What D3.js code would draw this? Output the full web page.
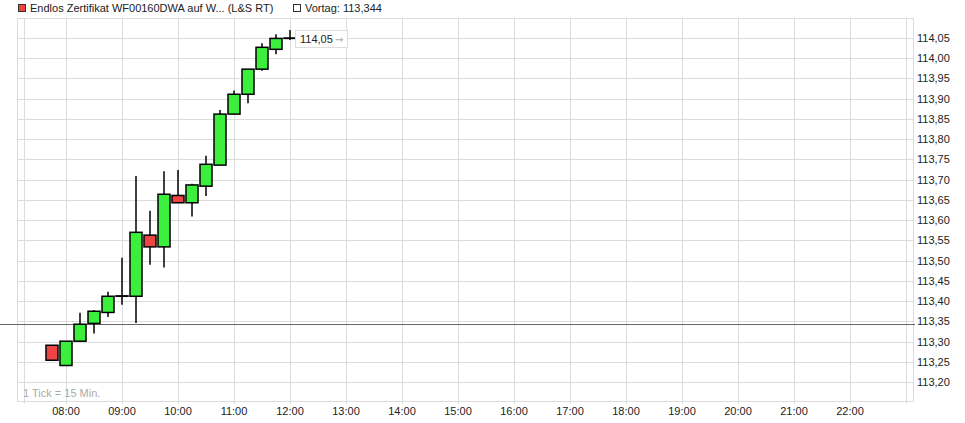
<!DOCTYPE html>
<html>
<head>
<meta charset="utf-8">
<script src="https://cdn.jsdelivr.net/npm/d3@7"></script>
<style>
  body { margin: 0; background: #fff; }
  svg { display: block; font-family: "Liberation Sans", Arial, sans-serif; }
</style>
</head>
<body>
<svg id="chart" width="965" height="423"></svg>
<script>
// 15-Minuten-Kerzen
const times  = ['07:45','08:00','08:15','08:30','08:45','09:00','09:15','09:30','09:45',
                '10:00','10:15','10:30','10:45','11:00','11:15','11:30','11:45','12:00'];
const opens  = [113.291,113.241,113.301,113.345,113.372,113.412,113.412,113.563,113.534,
                113.661,113.643,113.684,113.736,113.862,113.911,113.973,114.022,114.049];
const highs  = [113.291,113.301,113.371,113.378,113.423,113.507,113.709,113.623,113.721,
                113.724,113.690,113.759,113.872,113.920,113.973,114.037,114.059,114.070];
const lows   = [113.254,113.241,113.301,113.320,113.361,113.391,113.346,113.490,113.483,
                113.643,113.609,113.660,113.736,113.862,113.889,113.969,114.010,114.045];
const closes = [113.254,113.301,113.343,113.375,113.412,113.413,113.570,113.534,113.664,
                113.643,113.687,113.738,113.862,113.911,113.973,114.027,114.049,114.050];

const vortag = 113.344;
const lastPrice = 114.05;
const seriesName = 'Endlos Zertifikat WF00160DWA auf W... (L&S RT)';

const xTicks = ['08:00','09:00','10:00','11:00','12:00','13:00','14:00','15:00',
                '16:00','17:00','18:00','19:00','20:00','21:00','22:00'];
const yTicks = [113.20,113.25,113.30,113.35,113.40,113.45,113.50,113.55,113.60,
                113.65,113.70,113.75,113.80,113.85,113.90,113.95,114.00,114.05];

const de = d3.formatLocale({ decimal: ',', thousands: '.', grouping: [3], currency: ['', ' €'] });
const fmt2 = de.format('.2f');
const fmt3 = de.format('.3f');

const parse = d3.timeParse('%H:%M:%S');
const t = s => parse(s.length === 5 ? s + ':00' : s);

const plot = { left: 17, right: 913, top: 18, bottom: 401 };
const colors = { up: '#3def3d', down: '#ee4444', grid: '#dcdcdc', text: '#222' };

const svg = d3.select('#chart');

const x = d3.scaleTime()
  .domain([t('07:07:30'), t('23:07:30')])
  .range([plot.left, plot.right]);

const y = d3.scaleLinear()
  .domain([113.1533, 114.0994])
  .range([plot.bottom, plot.top]);

// Gitter
const grid = svg.append('g').attr('shape-rendering', 'crispEdges');

grid.selectAll('.hg').data(yTicks).enter().append('line')
  .attr('x1', plot.left).attr('x2', plot.right)
  .attr('y1', d => Math.round(y(d)) + 0.5).attr('y2', d => Math.round(y(d)) + 0.5)
  .attr('stroke', colors.grid);

grid.selectAll('.vg').data(xTicks).enter().append('line')
  .attr('x1', d => Math.round(x(t(d))) + 0.5).attr('x2', d => Math.round(x(t(d))) + 0.5)
  .attr('y1', plot.top).attr('y2', plot.bottom + 3)
  .attr('stroke', colors.grid);

// innere Rahmenlinien links / rechts
[plot.left + 7, plot.right - 7].forEach(px => {
  grid.append('line')
    .attr('x1', px + 0.5).attr('x2', px + 0.5)
    .attr('y1', plot.top).attr('y2', plot.bottom + 3)
    .attr('stroke', colors.grid);
});

grid.append('rect')
  .attr('x', plot.left + 0.5).attr('y', plot.top + 0.5)
  .attr('width', plot.right - plot.left).attr('height', plot.bottom - plot.top)
  .attr('fill', 'none').attr('stroke', colors.grid);

// Vortageslinie
svg.append('line')
  .attr('x1', 0).attr('x2', plot.right + 2)
  .attr('y1', Math.round(y(vortag)) + 0.5).attr('y2', Math.round(y(vortag)) + 0.5)
  .attr('stroke', '#666').attr('shape-rendering', 'crispEdges');

// Kerzen
const candles = times.map((tm, i) => ({
  time: t(tm), open: opens[i], high: highs[i], low: lows[i], close: closes[i]
}));

const bodyW = 12;
const cg = svg.append('g');

cg.selectAll('.wick').data(candles).enter().append('line')
  .attr('x1', d => x(d.time)).attr('x2', d => x(d.time))
  .attr('y1', d => y(d.high)).attr('y2', d => y(d.low))
  .attr('stroke', '#000').attr('stroke-width', 1.5);

cg.selectAll('.body').data(candles).enter().append('rect')
  .attr('x', d => x(d.time) - bodyW / 2)
  .attr('y', d => y(Math.max(d.open, d.close)))
  .attr('width', bodyW)
  .attr('height', d => Math.max(0.3, Math.abs(y(d.open) - y(d.close))))
  .attr('fill', d => (d.close >= d.open ? colors.up : colors.down))
  .attr('stroke', '#000').attr('stroke-width', 1.5);

// Kursmarke
const last = candles[candles.length - 1];
const lx = Math.round(x(last.time)) + 5;
const ly = y(lastPrice);
const badge = svg.append('g');
badge.append('rect')
  .attr('x', lx + 0.5).attr('y', Math.round(ly) - 7.5)
  .attr('width', 52).attr('height', 17)
  .attr('fill', '#fff').attr('stroke', '#dddddd');
badge.append('text')
  .attr('x', lx + 5).attr('y', ly + 5)
  .attr('font-size', 11).attr('fill', colors.text)
  .text(fmt2(lastPrice));
badge.append('text')
  .attr('x', lx + 40).attr('y', ly + 5)
  .attr('font-family', '"DejaVu Sans", sans-serif')
  .attr('font-size', 10).attr('font-weight', 'bold').attr('fill', '#bbb')
  .text('→');

// Y-Achse rechts
svg.append('g').selectAll('text').data(yTicks).enter().append('text')
  .attr('x', plot.right + 4)
  .attr('y', d => y(d) + 4)
  .attr('font-size', 11).attr('fill', colors.text)
  .text(d => fmt2(d));

// X-Achse
svg.append('g').selectAll('text').data(xTicks).enter().append('text')
  .attr('x', d => x(t(d)))
  .attr('y', plot.bottom + 14)
  .attr('text-anchor', 'middle')
  .attr('font-size', 11).attr('fill', colors.text)
  .text(d => d);

svg.append('text')
  .attr('x', plot.left + 6).attr('y', plot.bottom - 4)
  .attr('font-size', 11).attr('fill', '#aaa')
  .text('1 Tick = 15 Min.');

// Legende
const leg = svg.append('g');
leg.append('rect').attr('x', 18.5).attr('y', 4.5).attr('width', 7).attr('height', 7)
  .attr('fill', colors.down).attr('stroke', '#333');
leg.append('text').attr('x', 30).attr('y', 12)
  .attr('font-size', 11).attr('fill', colors.text)
  .text(seriesName);
leg.append('rect').attr('x', 293.5).attr('y', 4.5).attr('width', 7).attr('height', 7)
  .attr('fill', '#fff').attr('stroke', '#333');
leg.append('text').attr('x', 305).attr('y', 12)
  .attr('font-size', 11).attr('fill', colors.text)
  .text('Vortag: ' + fmt3(vortag));
</script>
</body>
</html>
